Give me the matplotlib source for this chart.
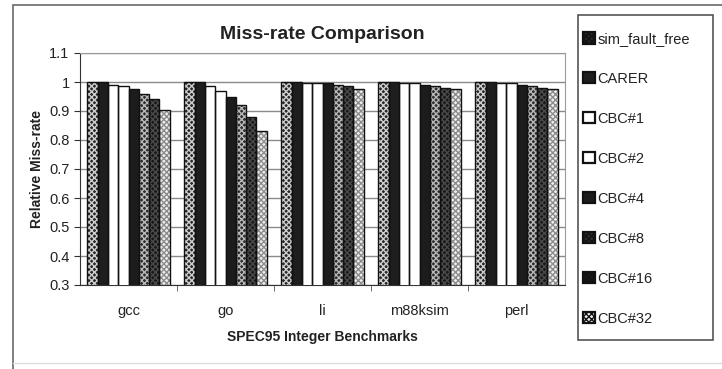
import numpy as np
import matplotlib.pyplot as plt
from matplotlib.patches import Rectangle, Patch

plt.rcParams['font.family'] = ['Liberation Sans', 'DejaVu Sans']
plt.rcParams['hatch.linewidth'] = 1.0

benchmarks = ["gcc", "go", "li", "m88ksim", "perl"]
schemes = ["sim_fault_free", "CARER", "CBC#1", "CBC#2", "CBC#4", "CBC#8", "CBC#16", "CBC#32"]

# relative miss-rate per benchmark, one list per scheme
sim_fault_free = [1.0, 1.0, 1.0, 1.0, 1.0]
carer = [1.0, 1.0, 1.0, 1.0, 1.0]
cbc1 = [0.99, 0.985, 0.995, 0.995, 0.995]
cbc2 = [0.985, 0.97, 0.995, 0.995, 0.995]
cbc4 = [0.975, 0.95, 0.995, 0.99, 0.99]
cbc8 = [0.96, 0.92, 0.99, 0.985, 0.985]
cbc16 = [0.94, 0.88, 0.985, 0.98, 0.98]
cbc32 = [0.905, 0.83, 0.975, 0.975, 0.975]
series = [sim_fault_free, carer, cbc1, cbc2, cbc4, cbc8, cbc16, cbc32]

# (face colour, hatch colour, hatch) for each scheme
styles = [
    ("#262626", "#cfcfcf", "xxxxxx"),
    ("#1e1e1e", "#1e1e1e", None),
    ("#ffffff", "#ffffff", None),
    ("#ffffff", "#ffffff", None),
    ("#1c1c1c", "#1c1c1c", None),
    ("#2c2c2c", "#b8b8b8", "xxxxxx"),
    ("#181818", "#4a4a4a", "xxxxxx"),
    ("#eeeeee", "#8c8c8c", "xxxxxx"),
]

fig = plt.figure(figsize=(7.22, 3.69), dpi=100)

# outer chart border
fig.patches.append(Rectangle((13 / 722, -0.05), 0.99, 1 - 5 / 369 + 0.05,
                             transform=fig.transFigure, fill=False,
                             edgecolor="#6a6a6a", linewidth=1.2))
fig.add_artist(plt.Line2D([13 / 722, 1], [1 - 363 / 369] * 2, transform=fig.transFigure,
                          color="#dddddd", linewidth=1))

# legend box drawn separately so its padding can differ per side
fig.patches.append(Rectangle((578 / 722, 1 - 340 / 369), 135 / 722, 325 / 369,
                             transform=fig.transFigure, fill=False,
                             edgecolor="#555555", linewidth=1.2))

ax = fig.add_axes([80 / 722, 1 - 285 / 369, 485 / 722, 232 / 369])

x = np.arange(len(benchmarks))
width = 0.106
offsets = (np.arange(len(schemes)) - (len(schemes) - 1) / 2) * width

for i, vals in enumerate(series):
    face, hcol, hatch = styles[i]
    ax.bar(x + offsets[i], vals, width, color=face, edgecolor=hcol, hatch=hatch,
           linewidth=0, zorder=3)
    ax.bar(x + offsets[i], vals, width, fill=False, edgecolor="#111111",
           linewidth=1.0, zorder=4)

ax.set_ylim(0.3, 1.1)
ax.set_xlim(-0.5, len(benchmarks) - 0.5)
ax.set_yticks(np.arange(0.3, 1.11, 0.1))
ax.set_yticklabels(["0.3", "0.4", "0.5", "0.6", "0.7", "0.8", "0.9", "1", "1.1"])
ax.yaxis.grid(True, color="#8a8a8a", linewidth=1, zorder=0)
ax.set_axisbelow(True)

ax.set_xticks(x)
ax.set_xticklabels(benchmarks)
ax.set_xticks(np.arange(0.5, len(benchmarks) - 0.5, 1), minor=True)
ax.tick_params(axis="x", which="major", length=0, pad=14, labelsize=10.5, labelcolor="#222222")
ax.tick_params(axis="x", which="minor", length=4, direction="out", color="#555555")
ax.tick_params(axis="y", length=4, direction="out", labelsize=10.5, labelcolor="#222222",
               color="#333333")

for side in ["top", "right"]:
    ax.spines[side].set_color("#9a9a9a")
    ax.spines[side].set_linestyle((0, (2, 1)))
ax.spines["left"].set_color("#333333")
ax.spines["bottom"].set_color("#333333")

ax.set_title("Miss-rate Comparison", fontsize=14, fontweight="bold", color="#222222", pad=10)
ax.set_ylabel("Relative Miss-rate", fontsize=10, fontweight="bold", color="#222222", labelpad=4)
ax.set_xlabel("SPEC95 Integer Benchmarks", fontsize=10, fontweight="bold", color="#222222",
              labelpad=8)

handles = []
for face, hcol, hatch in styles:
    handles.append(Patch(facecolor=face, edgecolor="#111111", hatch=hatch, linewidth=1.6))
leg = fig.legend(handles, schemes, loc="upper left", bbox_to_anchor=(583 / 722, 1 - 32 / 369),
                 frameon=False, fontsize=10.5,
                 handlelength=0.8, handleheight=0.8, handletextpad=0.2, labelspacing=1.78,
                 borderpad=0, borderaxespad=0)
for t in leg.get_texts():
    t.set_color("#222222")

fig.savefig("out.png", dpi=100)
